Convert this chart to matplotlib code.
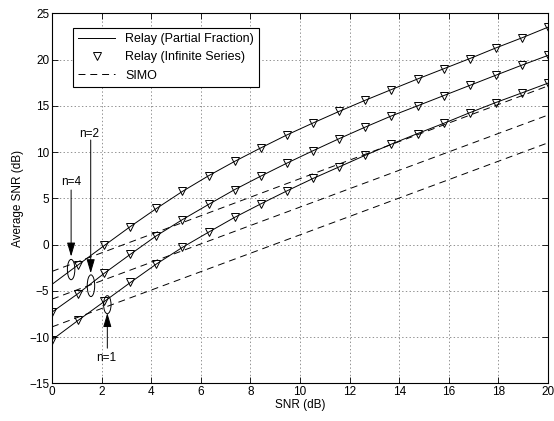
import matplotlib
matplotlib.use('Agg')
import matplotlib.pyplot as plt
from matplotlib.patches import Ellipse

plt.rcParams['font.family'] = ['Liberation Sans', 'DejaVu Sans']
plt.rcParams['font.size'] = 8.5
plt.rcParams['lines.scale_dashes'] = False

# SNR (dB) sample points of the relay curves
snr = [0, 1.05, 2.11, 3.16, 4.21, 5.26, 6.32, 7.37, 8.42, 9.47,
       10.53, 11.58, 12.63, 13.68, 14.74, 15.79, 16.84, 17.89, 18.95, 20]

# relay average SNR, n = 4, 2, 1
relay_n4 = [-4.3, -2.2, -0.1, 1.95, 3.9, 5.75, 7.45, 9.0, 10.45, 11.85,
            13.15, 14.4, 15.6, 16.75, 17.9, 19.0, 20.1, 21.25, 22.35, 23.5]
relay_n2 = [-7.3, -5.3, -3.1, -1.05, 0.95, 2.7, 4.35, 5.95, 7.4, 8.8,
            10.15, 11.45, 12.7, 13.9, 15.0, 16.1, 17.2, 18.3, 19.4, 20.45]
relay_n1 = [-10.3, -8.2, -6.15, -4.1, -2.1, -0.3, 1.35, 2.95, 4.4, 5.8,
            7.15, 8.4, 9.65, 10.85, 12.0, 13.1, 14.25, 15.35, 16.4, 17.45]

# SIMO lines (end points)
simo_snr = [0, 20]
simo_n4 = [-2.9, 17.15]
simo_n2 = [-5.9, 14.0]
simo_n1 = [-8.9, 11.0]

# labels: text, ellipse centre, ellipse height, arrow start, arrow end
labels = ['n=4', 'n=2', 'n=1']
label_xy = [(0.79, 6.8), (1.5, 11.9), (2.2, -12.3)]
ellipse_xy = [(0.77, -2.7), (1.57, -4.45), (2.23, -6.5)]
ellipse_h = [2.2, 2.35, 1.95]
arrow_from = [(0.77, 5.9), (1.56, 11.3), (2.23, -11.2)]
arrow_to = [(0.77, -1.3), (1.56, -3.1), (2.23, -7.4)]

fig = plt.figure(figsize=(5.54, 4.21), dpi=100)
ax = fig.add_axes([0.0939, 0.0895, 0.8953, 0.8789])

# solid relay curves (partial fraction)
ax.plot(snr, relay_n4, color='k', lw=0.7, label='Relay (Partial Fraction)')
ax.plot(snr, relay_n2, color='k', lw=0.7)
ax.plot(snr, relay_n1, color='k', lw=0.7)

# markers (infinite series), n=4 has no point at 0 dB
mk = dict(marker='v', ms=6.2, mfc='none', mec='k', mew=0.7, ls='none')
ax.plot(snr[1:], relay_n4[1:], label='Relay (Infinite Series)', **mk)
ax.plot(snr, relay_n2, **mk)
ax.plot(snr, relay_n1, **mk)

# SIMO
ax.plot(simo_snr, simo_n4, color='k', lw=0.7, dashes=(5, 3.5), label='SIMO')
ax.plot(simo_snr, simo_n2, color='k', lw=0.7, dashes=(5, 3.5))
ax.plot(simo_snr, simo_n1, color='k', lw=0.7, dashes=(5, 3.5))

# ellipses + arrows
for txt, txy, exy, eh, a0, a1 in zip(labels, label_xy, ellipse_xy, ellipse_h, arrow_from, arrow_to):
    ax.add_patch(Ellipse(exy, width=0.3, height=eh, fill=False, ec='k', lw=0.7))
    ax.annotate('', xy=a1, xytext=a0,
                arrowprops=dict(arrowstyle='-|>,head_length=0.85,head_width=0.25',
                                color='k', lw=0.7, shrinkA=0, shrinkB=0, mutation_scale=10))
    ax.text(txy[0], txy[1], txt, ha='center', va='center')

ax.set_xlim(0, 20)
ax.set_ylim(-15, 25)
ax.set_xticks(range(0, 21, 2))
ax.set_yticks(range(-15, 26, 5))
ax.tick_params(direction='in', top=True, right=True, length=4, width=0.6, pad=2)
ax.grid(True, linestyle=':', color='k', lw=0.5, alpha=0.6)
for s in ax.spines.values():
    s.set_linewidth(0.8)

ax.set_xlabel('SNR (dB)', labelpad=1)
ax.set_ylabel('Average SNR (dB)', labelpad=4)

leg = ax.legend(loc='upper left', bbox_to_anchor=(0.042, 0.96), borderaxespad=0,
                fancybox=False, framealpha=1, edgecolor='k', handlelength=3.0,
                fontsize=9, labelspacing=0.5)
leg.get_frame().set_linewidth(0.8)

plt.savefig('out.png', dpi=100)
